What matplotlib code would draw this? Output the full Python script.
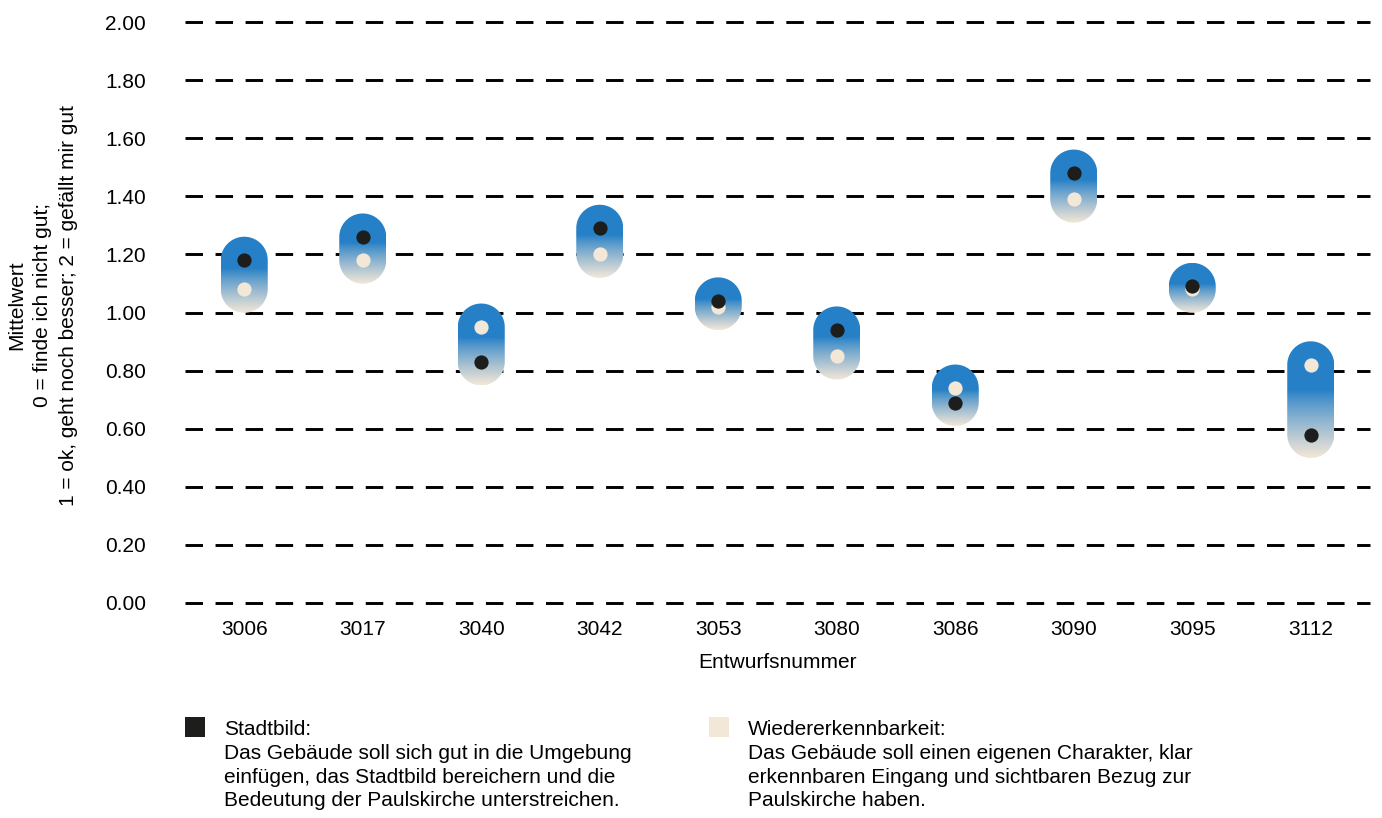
import numpy as np
import matplotlib
matplotlib.use("Agg")
import matplotlib.pyplot as plt
from matplotlib.patches import Polygon, Rectangle
from matplotlib.colors import to_rgb

plt.rcParams["font.family"] = ["Liberation Sans", "DejaVu Sans"]

# data
entwuerfe = ["3006", "3017", "3040", "3042", "3053", "3080", "3086", "3090", "3095", "3112"]
stadtbild = [1.18, 1.26, 0.83, 1.29, 1.04, 0.94, 0.69, 1.48, 1.09, 0.58]
wiedererkennbarkeit = [1.08, 1.18, 0.95, 1.20, 1.02, 0.85, 0.74, 1.39, 1.08, 0.82]
y_ticks = [0.0, 0.2, 0.4, 0.6, 0.8, 1.0, 1.2, 1.4, 1.6, 1.8, 2.0]

BLUE = "#2680c7"
CREAM = "#f3e7d8"
BLACK = "#1d1d1b"
FS = 15

W, H, DPI = 1382, 818, 100
fig = plt.figure(figsize=(W / DPI, H / DPI), dpi=DPI)
ax_l, ax_r, ax_t, ax_b = 185, 1370, 22, 603
ax = fig.add_axes([ax_l / W, 1 - ax_b / H, (ax_r - ax_l) / W, (ax_b - ax_t) / H])

x = np.arange(len(entwuerfe))
xlim = (-0.5, len(entwuerfe) - 0.5)
ylim = (0.0, 2.0)
sx = (xlim[1] - xlim[0]) / (ax_r - ax_l)  # data units per px
sy = (ylim[1] - ylim[0]) / (ax_b - ax_t)

for yv in y_ticks:
  ax.axhline(yv, color="black", lw=2.1, ls=(0, (6, 4.3)), clip_on=False, zorder=1)

# capsule with vertical gradient (blue top -> cream bottom)
r_px = 23.5
blue, cream = np.array(to_rgb(BLUE)), np.array(to_rgb(CREAM))
t = np.linspace(0, 1, 200)
f = np.clip((t - 0.42) / 0.58, 0, 1) ** 0.85
grad = (1 - f)[:, None] * blue + f[:, None] * cream
grad = grad[:, None, :]
for xi, a, b in zip(x, stadtbild, wiedererkennbarkeit):
  hi, lo = max(a, b), min(a, b)
  th = np.linspace(0, np.pi, 40)
  top = np.c_[xi + r_px * sx * np.cos(th), hi + r_px * sy * np.sin(th)]
  bot = np.c_[xi + r_px * sx * np.cos(th + np.pi), lo + r_px * sy * np.sin(th + np.pi)]
  poly = Polygon(np.vstack([top, bot]), closed=True, transform=ax.transData,
                 facecolor="none", edgecolor="none")
  ax.add_patch(poly)
  im = ax.imshow(grad, extent=[xi - r_px * sx, xi + r_px * sx, lo - r_px * sy, hi + r_px * sy],
                 aspect="auto", interpolation="bilinear", zorder=2, origin="upper")
  im.set_clip_path(poly)

ax.scatter(x, wiedererkennbarkeit, s=105, color=CREAM, zorder=3, linewidths=0)
ax.scatter(x, stadtbild, s=105, color=BLACK, zorder=4, linewidths=0)

ax.set_xlim(*xlim)
ax.set_ylim(*ylim)
ax.set_xticks(x)
ax.set_xticklabels(entwuerfe, fontsize=FS)
ax.set_yticks(y_ticks)
ax.set_yticklabels([f"{v:.2f}" for v in y_ticks], fontsize=FS)
ax.tick_params(length=0, pad=12)
ax.tick_params(axis="y", pad=28)
for s in ax.spines.values():
  s.set_visible(False)
ax.set_xlabel("Entwurfsnummer", fontsize=FS, labelpad=10)

fig.text(43 / W, 1 - 305 / H,
         "Mittelwert\n0 = finde ich nicht gut;\n1 = ok, geht noch besser; 2 = gefällt mir gut",
         rotation=90, ha="center", va="center", multialignment="center",
         fontsize=FS, linespacing=1.46)

# legend
legend_items = [
  (185, 224, BLACK, "Stadtbild:\nDas Gebäude soll sich gut in die Umgebung\neinfügen, das Stadtbild bereichern und die\nBedeutung der Paulskirche unterstreichen."),
  (709, 748, CREAM, "Wiedererkennbarkeit:\nDas Gebäude soll einen eigenen Charakter, klar\nerkennbaren Eingang und sichtbaren Bezug zur\nPaulskirche haben."),
]
for sq_x, tx, col, txt in legend_items:
  fig.patches.append(Rectangle((sq_x / W, 1 - 737 / H), 20 / W, 20 / H,
                               transform=fig.transFigure, facecolor=col, edgecolor="none"))
  fig.text(tx / W, 1 - 720 / H, txt, ha="left", va="top", fontsize=FS, linespacing=1.32)

fig.savefig("out.png", dpi=DPI)
